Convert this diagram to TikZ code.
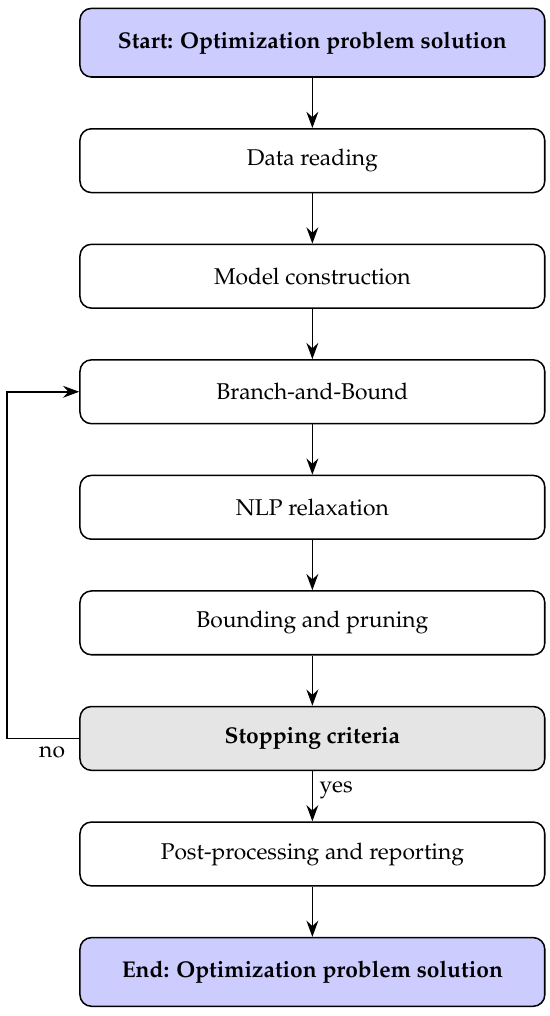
\documentclass[tikz,border=0pt]{standalone}
\IfFileExists{mathpazo.sty}{\usepackage[T1]{fontenc}\usepackage{mathpazo}}{\usepackage{fontspec}\setmainfont{Liberation Serif}}
\usetikzlibrary{arrows.meta,positioning}

\begin{document}
\begin{tikzpicture}[
    font=\large,
    box/.style={draw, rounded corners=6pt, line width=0.8pt, minimum width=8.6cm,
        minimum height=1.18cm, fill=#1},
    box/.default=white,
    term/.style={box=blue!20, minimum height=1.27cm, font=\large\bfseries},
    arr/.style={-{Stealth[length=3mm,width=2.2mm,inset=1mm]}, line width=0.85pt}
]
\useasboundingbox (0,0) rectangle (10.175,-18.8);
\node[term] (start) at (5.78,-0.79) {Start: Optimization problem solution};
\node[box, below=0.93cm of start] (data) {Data reading};
\node[box, below=0.93cm of data] (model) {Model construction};
\node[box, below=0.93cm of model] (branch) {Branch-and-Bound};
\node[box, below=0.93cm of branch] (nlp) {NLP relaxation};
\node[box, below=0.93cm of nlp] (bound) {Bounding and pruning};
\node[box=gray!20, below=0.93cm of bound, font=\large\bfseries] (stop) {Stopping criteria};
\node[box, below=0.93cm of stop] (post) {Post-processing and reporting};
\node[term, below=0.93cm of post] (end) {End: Optimization problem solution};

\draw[arr] (start) -- (data);
\draw[arr] (data) -- (model);
\draw[arr] (model) -- (branch);
\draw[arr] (branch) -- (nlp);
\draw[arr] (nlp) -- (bound);
\draw[arr] (bound) -- (stop);
\draw[arr] (stop) -- node[right, pos=0.38] (yes) {yes} (post);
\draw[arr] (post) -- (end);

% loop back
\coordinate (back) at (0.13,0);
\draw[arr] (stop.west) -- (stop.west -| back) |- (branch.west);
\node[below left=0.02cm and 0.14cm of stop.west] (no) {no};
\end{tikzpicture}
\end{document}
